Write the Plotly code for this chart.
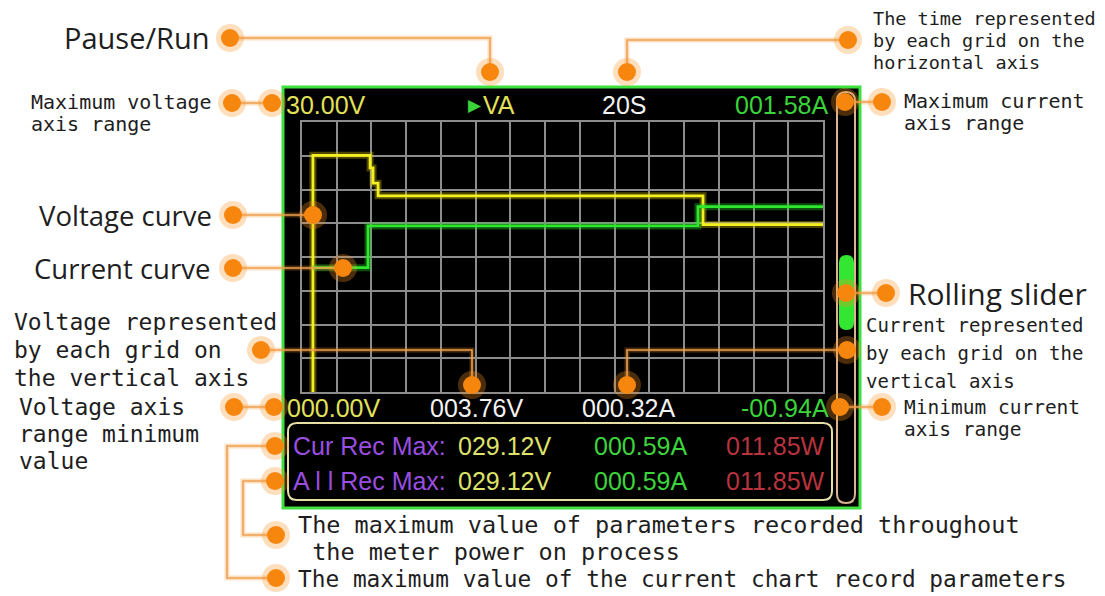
import plotly.graph_objects as go

W, H = 1105, 596

# ---------------- data ----------------
time_v = [6.3, 6.3, 39.2, 40.9, 43.8, 230.9, 300]          # s
volt = [0.0, 26.3, 24.9, 23.2, 21.8, 18.6, 18.6]            # V
time_i = [6.3, 38.0, 228.0, 300]                            # s
curr = [0.22, 0.61, 0.79, 0.79]                             # A

v_range = [0.0, 30.0]
i_range = [-0.94, 1.58]
t_range = [0, 300]
t_grid = 20
v_grid = 3.75

top_labels = ["30.00V", "VA", "20S", "001.58A"]
bottom_labels = ["000.00V", "003.76V", "000.32A", "-00.94A"]
rec_rows = ["Cur Rec Max:", "A l l Rec Max:"]
rec_volt = ["029.12V", "029.12V"]
rec_curr = ["000.59A", "000.59A"]
rec_pow = ["011.85W", "011.85W"]


def X(x):
    return x / W


def Y(y):
    return 1 - y / H


fig = go.Figure()

# glow + lines
fig.add_trace(go.Scatter(x=time_v, y=volt, mode="lines", line=dict(color="rgba(220,200,0,0.35)", width=7, shape="hv"),
                         hoverinfo="skip", showlegend=False))
fig.add_trace(go.Scatter(x=time_i, y=curr, yaxis="y2", mode="lines", line=dict(color="rgba(40,220,40,0.35)", width=7, shape="hv"),
                         hoverinfo="skip", showlegend=False))
fig.add_trace(go.Scatter(x=time_v, y=volt, mode="lines", line=dict(color="#f4f020", width=2.8, shape="hv"),
                         name="Voltage", showlegend=False))
fig.add_trace(go.Scatter(x=time_i, y=curr, yaxis="y2", mode="lines", line=dict(color="#2ee82e", width=2.8, shape="hv"),
                         name="Current", showlegend=False))

shapes = []
annotations = []


def rect(x0, y0, x1, y1, **kw):
    shapes.append(dict(type="rect", xref="paper", yref="paper", x0=X(x0), x1=X(x1), y0=Y(y1), y1=Y(y0), **kw))


def rounded(x0, y0, x1, y1, r, **kw):
    p = (f"M {X(x0 + r)},{Y(y0)} L {X(x1 - r)},{Y(y0)} Q {X(x1)},{Y(y0)} {X(x1)},{Y(y0 + r)} "
         f"L {X(x1)},{Y(y1 - r)} Q {X(x1)},{Y(y1)} {X(x1 - r)},{Y(y1)} "
         f"L {X(x0 + r)},{Y(y1)} Q {X(x0)},{Y(y1)} {X(x0)},{Y(y1 - r)} "
         f"L {X(x0)},{Y(y0 + r)} Q {X(x0)},{Y(y0)} {X(x0 + r)},{Y(y0)} Z")
    shapes.append(dict(type="path", xref="paper", yref="paper", path=p, **kw))


def polyline(pts, color, width, layer="above"):
    p = "M " + " L ".join(f"{X(a)},{Y(b)}" for a, b in pts)
    shapes.append(dict(type="path", xref="paper", yref="paper", path=p, layer=layer,
                       line=dict(color=color, width=width)))


def circle(cx, cy, r, color, layer="above"):
    shapes.append(dict(type="circle", xref="paper", yref="paper", x0=X(cx - r), x1=X(cx + r),
                       y0=Y(cy + r), y1=Y(cy - r), fillcolor=color, line=dict(width=0), layer=layer))


def text(x, y, s, size, color, family, anchor="left"):
    annotations.append(dict(x=X(x), y=Y(y), xref="paper", yref="paper", text=s, showarrow=False,
                            xanchor=anchor, yanchor="middle", borderpad=0,
                            font=dict(size=size, color=color, family=family)))


# screen
rect(283, 87, 860, 508, fillcolor="black", line=dict(color="#3ee03e", width=3), layer="below")
rounded(288, 423, 832, 500, 9, line=dict(color="#e6e0a6", width=2), layer="below")
rounded(837, 92, 855, 503, 9, line=dict(color="#d9b48e", width=2), layer="below")
rounded(839, 255, 854, 330, 7.5, fillcolor="#32e632", line=dict(width=0), layer="below")

# screen texts
SF = "Liberation Sans, Arial, sans-serif"
text(285, 105, top_labels[0], 25, "#e2e25a", SF)
text(475, 105, "▶", 17, "#3ad43a", "DejaVu Sans", "center")
text(482, 105, top_labels[1], 25, "#e2e25a", SF)
text(624, 105, top_labels[2], 25, "#f2f2f2", SF, "center")
text(829, 105, top_labels[3], 25, "#3ad43a", SF, "right")
text(286, 408, bottom_labels[0], 25, "#e2e25a", SF)
text(476, 408, bottom_labels[1], 25, "#f2f2f2", SF, "center")
text(628, 408, bottom_labels[2], 25, "#f2f2f2", SF, "center")
text(830, 408, bottom_labels[3], 25, "#3ad43a", SF, "right")
for k, yy in enumerate([446, 481]):
    text(292, yy, rec_rows[k], 25, "#9a4ee0", SF)
    text(457, yy, rec_volt[k], 25, "#dde26a", SF)
    text(593, yy, rec_curr[k], 25, "#3cd43c", SF)
    text(725, yy, rec_pow[k], 25, "#b8333d", SF)

# callouts
callout_lines = [
    [(230, 38), (490, 38), (490, 72)],
    [(848, 40), (627, 40), (627, 72)],
    [(232, 103), (272, 103)],
    [(845, 102), (882, 102)],
    [(233, 215), (313, 215)],
    [(233, 268), (343, 268)],
    [(846, 293), (886, 293)],
    [(261, 350), (472, 350), (472, 385)],
    [(847, 350), (627, 350), (627, 385)],
    [(234, 407), (274, 407)],
    [(840, 407), (882, 407)],
    [(275, 446), (227, 446), (227, 578), (276, 578)],
    [(275, 481), (243, 481), (243, 535), (276, 535)],
]
for pl in callout_lines:
    polyline(pl, "rgba(245,150,50,0.30)", 5)
    polyline(pl, "#f0a050", 1.6)

dots = [(230, 38), (490, 72), (848, 40), (627, 72), (232, 103), (272, 103), (882, 102), (845, 102),
        (233, 215), (313, 215), (233, 268), (343, 268), (886, 293), (846, 293), (261, 350), (472, 385),
        (847, 350), (627, 385), (234, 407), (274, 407), (882, 407), (840, 407), (275, 446), (275, 481),
        (276, 535), (276, 578)]
for cx, cy in dots:
    circle(cx, cy, 14, "rgba(247,150,40,0.30)")
    circle(cx, cy, 9, "#f7860f")

# outer labels
BF = "Open Sans, Noto Sans, sans-serif"
MF = "DejaVu Sans Mono, monospace"
TC = "#1e1e1e"
text(211, 38, "Pause/Run", 29, TC, BF, "right")
text(213, 215, "Voltage curve", 27.5, TC, BF, "right")
text(211, 268, "Current curve", 27.5, TC, BF, "right")
text(907, 293, "Rolling slider", 30, TC, BF)

text(872, 18, "The time represented", 18.5, TC, MF)
text(872, 40, "by each grid on the", 18.5, TC, MF)
text(872, 62, "horizontal axis", 18.5, TC, MF)
text(30, 102, "Maximum voltage", 20, TC, MF)
text(30, 124, "axis range", 20, TC, MF)
text(903, 101, "Maximum current", 20, TC, MF)
text(903, 123, "axis range", 20, TC, MF)
text(13, 322, "Voltage represented", 23, TC, MF)
text(13, 350, "by each grid on", 23, TC, MF)
text(13, 378, "the vertical axis", 23, TC, MF)
text(865, 325, "Current represented", 19, TC, MF)
text(865, 353, "by each grid on the", 19, TC, MF)
text(865, 381, "vertical axis", 19, TC, MF)
text(18, 407, "Voltage axis", 23, TC, MF)
text(18, 434, "range minimum", 23, TC, MF)
text(18, 461, "value", 23, TC, MF)
text(903, 407, "Minimum current", 19.5, TC, MF)
text(903, 429, "axis range", 19.5, TC, MF)
text(297, 525, "The maximum value of parameters recorded throughout", 23.5, TC, MF)
text(297, 552, " the meter power on process", 23.5, TC, MF)
text(297, 579, "The maximum value of the current chart record parameters", 22.8, TC, MF)

grid = dict(showgrid=True, gridcolor="#8c8c8c", gridwidth=1.5, showline=True, mirror=True,
            linecolor="#8c8c8c", linewidth=1.5, zeroline=False, showticklabels=False, ticks="")
fig.update_layout(
    width=W, height=H, margin=dict(l=0, r=0, t=0, b=0),
    paper_bgcolor="white", plot_bgcolor="rgba(0,0,0,0)",
    xaxis=dict(domain=[X(302), X(823)], range=t_range, tick0=0, dtick=t_grid, **grid),
    yaxis=dict(domain=[Y(392), Y(122)], range=v_range, tick0=0, dtick=v_grid, **grid),
    yaxis2=dict(overlaying="y", range=i_range, showgrid=False, showticklabels=False, zeroline=False, visible=False),
    shapes=shapes, annotations=annotations, showlegend=False,
)
fig.write_html("out.html", config={"displayModeBar": False},
               post_script="document.body.style.margin='0';document.body.style.overflow='hidden';")
